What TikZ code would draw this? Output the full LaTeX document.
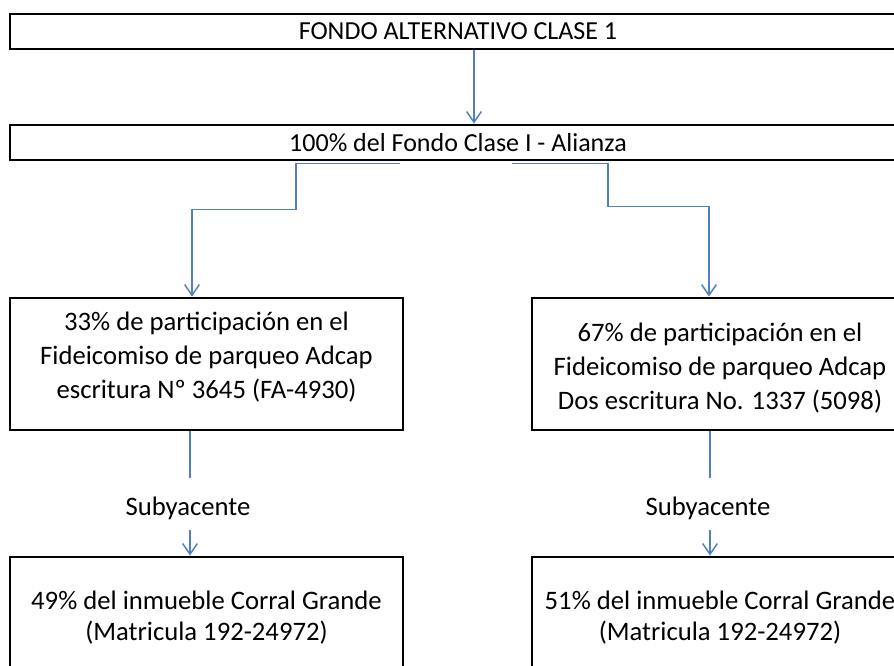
\documentclass[tikz,border=0pt]{standalone}
\usepackage{fontspec}
\setmainfont{Carlito}
\usepackage{xcolor}
\usetikzlibrary{calc}
\usetikzlibrary{arrows.meta}
\definecolor{flowblue}{HTML}{4F81BD}

\begin{document}
\begin{tikzpicture}[x=0.75pt, y=-0.75pt,
        box/.style={draw, line width=2.2pt, rectangle, align=center, inner sep=0pt},
        flow/.style={draw=flowblue, line width=1.1pt},
        flowarrow/.style={flow, -{Straight Barb[length=8pt, width=11pt, line width=1.1pt]}},
        txt/.style={font=\fontsize{19.5}{25.5}\selectfont},
        lines/.style={align=center, inner sep=0pt, font=\fontsize{20}{25.5}\selectfont}]
        %MARGIN
        \useasboundingbox (0,0) rectangle (894,666);
        \clip (0,0) rectangle (894,666);

        %BOXES
        \node[box, txt, minimum width=896*0.75pt, minimum height=35*0.75pt] (fondo) at (458,31.5) {FONDO ALTERNATIVO CLASE 1};
        \node[box, txt, minimum width=896*0.75pt, minimum height=35*0.75pt] (alianza) at (458,142.5) {100\% del Fondo Clase I - Alianza};
        \node[box, minimum width=393*0.75pt, minimum height=132*0.75pt,
              label={[lines, yshift=5.5pt]center:{33\% de participación en el\\Fideicomiso de parqueo Adcap\\escritura Nº 3645 (FA-4930)}}] (part33) at (206.5,364) {};
        \node[box, minimum width=376*0.75pt, minimum height=132*0.75pt,
              label={[lines, yshift=-3pt]center:{67\% de participación en el\\Fideicomiso de parqueo Adcap\\Dos escritura No. 1337 (5098)}}] (part67) at (720,364) {};
        \node[box, minimum width=393*0.75pt, minimum height=122*0.75pt, font=\fontsize{20}{23.3}\selectfont] (inm49) at (206.5,618) {49\% del inmueble Corral Grande\\(Matricula 192-24972)};
        \node[box, minimum width=376*0.75pt, minimum height=122*0.75pt, font=\fontsize{20}{23.3}\selectfont] (inm51) at (720,618) {51\% del inmueble Corral Grande\\(Matricula 192-24972)};

        %LABEL
        \node[txt, font=\fontsize{20}{24}\selectfont, minimum height=44*0.75pt, inner sep=0pt] (sub33) at (188,508) {Subyacente};
        \node[txt, font=\fontsize{20}{24}\selectfont, minimum height=44*0.75pt, inner sep=0pt] (sub67) at (708,508) {Subyacente};

        %CONNECTORS
        \draw[flowarrow] ($(fondo.south)+(16,0)$) -- ($(alianza.north)+(16,0)$);
        \draw[flowarrow] ($(alianza.south)+(-58,2)$) -- ++(-104,0) -- ++(0,46) -| ($(part33.north)+(-14.5,0)$);
        \draw[flowarrow] ($(alianza.south)+(54,2)$) -- ++(96,0) -- ++(0,43) -| ($(part67.north)+(-11,0)$);
        \draw[flow] ($(part33.south)+(-16.5,0)$) -- ($(sub33.north)+(2,-8)$);
        \draw[flowarrow] ($(sub33.south)+(2,0)$) -- ($(inm49.north)+(-16.5,0)$);
        \draw[flow] ($(part67.south)+(-10,0)$) -- ($(sub67.north)+(2,-8)$);
        \draw[flowarrow] ($(sub67.south)+(2,0)$) -- ($(inm51.north)+(-10,0)$);
    \end{tikzpicture}
\end{document}
